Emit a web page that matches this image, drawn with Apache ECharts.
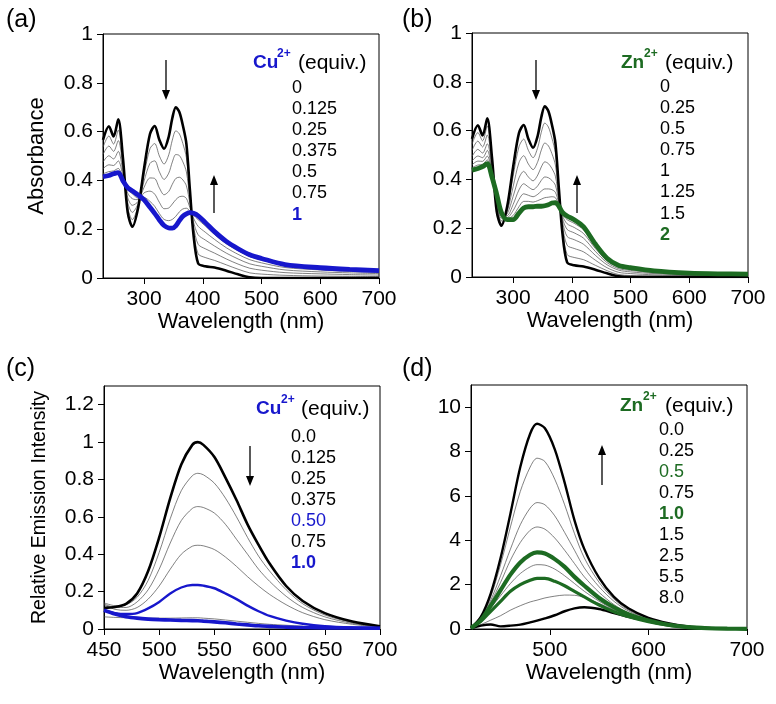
<!DOCTYPE html>
<html>
<head>
<meta charset="utf-8">
<script src="https://cdn.jsdelivr.net/npm/echarts@6/dist/echarts.min.js"></script>
<style>
html, body { margin: 0; padding: 0; background: #fff; }
#chart { width: 776px; height: 704px; }
</style>
</head>
<body>
<div id="chart"></div>
<script>
// (a)/(b) absorption, wavelength grid (nm)
const absWl = [230, 240, 248, 256, 264, 272, 280, 290, 300, 310, 318, 326, 334, 342, 348, 354, 360, 366, 372, 378, 384, 392, 404, 420, 440, 460, 480, 500, 540, 600, 650, 700]
const absFree = [0.566, 0.622, 0.58, 0.65, 0.49, 0.27, 0.21, 0.29, 0.45, 0.59, 0.623, 0.566, 0.53, 0.58, 0.655, 0.70, 0.68, 0.625, 0.55, 0.36, 0.18, 0.06, 0.048, 0.043, 0.03, 0.015, 0.003, 0, 0, 0, 0, 0]

// Cu2+ titration
const absCu0125 = [0.536, 0.582, 0.549, 0.606, 0.472, 0.29, 0.239, 0.298, 0.424, 0.53, 0.551, 0.50, 0.467, 0.505, 0.565, 0.603, 0.591, 0.551, 0.493, 0.342, 0.197, 0.099, 0.084, 0.072, 0.054, 0.036, 0.021, 0.016, 0.011, 0.008, 0.007, 0.006]
const absCu025 = [0.506, 0.541, 0.519, 0.563, 0.453, 0.31, 0.269, 0.306, 0.398, 0.47, 0.48, 0.435, 0.404, 0.43, 0.475, 0.506, 0.502, 0.476, 0.435, 0.323, 0.214, 0.138, 0.12, 0.102, 0.078, 0.057, 0.04, 0.032, 0.022, 0.017, 0.014, 0.012]
const absCu0375 = [0.475, 0.501, 0.488, 0.519, 0.435, 0.33, 0.298, 0.314, 0.372, 0.41, 0.408, 0.369, 0.341, 0.355, 0.384, 0.408, 0.413, 0.402, 0.378, 0.305, 0.231, 0.177, 0.156, 0.131, 0.102, 0.078, 0.058, 0.048, 0.033, 0.025, 0.021, 0.018]
const absCu05 = [0.448, 0.464, 0.461, 0.48, 0.418, 0.348, 0.325, 0.321, 0.349, 0.356, 0.344, 0.31, 0.284, 0.287, 0.303, 0.321, 0.333, 0.335, 0.326, 0.288, 0.246, 0.212, 0.188, 0.158, 0.124, 0.097, 0.075, 0.062, 0.043, 0.033, 0.027, 0.023]
const absCu075 = [0.427, 0.436, 0.439, 0.449, 0.405, 0.362, 0.345, 0.327, 0.33, 0.314, 0.294, 0.264, 0.24, 0.235, 0.24, 0.253, 0.271, 0.283, 0.286, 0.275, 0.258, 0.239, 0.214, 0.178, 0.14, 0.112, 0.088, 0.074, 0.051, 0.039, 0.032, 0.028]
const absCu1 = [0.415, 0.42, 0.427, 0.432, 0.398, 0.37, 0.357, 0.34, 0.32, 0.29, 0.265, 0.238, 0.215, 0.205, 0.204, 0.214, 0.235, 0.253, 0.263, 0.268, 0.265, 0.255, 0.228, 0.19, 0.15, 0.12, 0.095, 0.08, 0.055, 0.042, 0.035, 0.03]

// Zn2+ titration
const absZn025 = [0.544, 0.592, 0.558, 0.619, 0.476, 0.282, 0.219, 0.281, 0.413, 0.534, 0.565, 0.519, 0.489, 0.531, 0.593, 0.631, 0.615, 0.57, 0.508, 0.348, 0.194, 0.092, 0.08, 0.071, 0.048, 0.026, 0.01, 0.006, 0.004, 0.003, 0.002, 0.002]
const absZn05 = [0.519, 0.557, 0.533, 0.582, 0.46, 0.296, 0.23, 0.27, 0.37, 0.469, 0.497, 0.463, 0.44, 0.473, 0.52, 0.549, 0.538, 0.506, 0.459, 0.334, 0.211, 0.13, 0.117, 0.103, 0.069, 0.038, 0.019, 0.014, 0.009, 0.006, 0.005, 0.004]
const absZn075 = [0.494, 0.523, 0.508, 0.546, 0.445, 0.309, 0.241, 0.259, 0.33, 0.406, 0.433, 0.41, 0.394, 0.418, 0.451, 0.472, 0.465, 0.445, 0.413, 0.321, 0.228, 0.166, 0.153, 0.134, 0.089, 0.05, 0.028, 0.021, 0.014, 0.009, 0.007, 0.007]
const absZn1 = [0.475, 0.496, 0.489, 0.519, 0.433, 0.32, 0.249, 0.251, 0.297, 0.357, 0.382, 0.369, 0.358, 0.374, 0.396, 0.41, 0.407, 0.396, 0.376, 0.31, 0.24, 0.195, 0.181, 0.159, 0.105, 0.059, 0.034, 0.027, 0.018, 0.011, 0.009, 0.009]
const absZn125 = [0.46, 0.475, 0.474, 0.496, 0.424, 0.328, 0.256, 0.244, 0.272, 0.318, 0.341, 0.335, 0.329, 0.339, 0.352, 0.361, 0.361, 0.358, 0.347, 0.302, 0.251, 0.218, 0.203, 0.178, 0.117, 0.066, 0.04, 0.032, 0.021, 0.013, 0.011, 0.01]
const absZn15 = [0.448, 0.459, 0.462, 0.48, 0.416, 0.334, 0.261, 0.239, 0.252, 0.288, 0.31, 0.31, 0.307, 0.313, 0.319, 0.325, 0.327, 0.329, 0.325, 0.296, 0.258, 0.235, 0.22, 0.193, 0.127, 0.072, 0.043, 0.035, 0.023, 0.015, 0.012, 0.011]
const absZn2 = [0.438, 0.445, 0.452, 0.465, 0.41, 0.34, 0.265, 0.235, 0.235, 0.262, 0.283, 0.288, 0.288, 0.29, 0.29, 0.292, 0.296, 0.303, 0.305, 0.29, 0.265, 0.25, 0.235, 0.206, 0.135, 0.077, 0.047, 0.038, 0.025, 0.016, 0.013, 0.012]

// (c) emission with Cu2+
const emWlCu = [450, 460, 470, 480, 490, 500, 510, 520, 530, 535, 540, 550, 560, 570, 580, 590, 600, 615, 630, 650, 675, 700]
const emCu0 = [0.114, 0.118, 0.135, 0.19, 0.31, 0.49, 0.70, 0.88, 0.985, 1.0, 0.985, 0.92, 0.81, 0.69, 0.56, 0.45, 0.35, 0.23, 0.15, 0.085, 0.04, 0.015]
const emCu0125 = [0.14, 0.125, 0.13, 0.17, 0.26, 0.41, 0.59, 0.74, 0.82, 0.833, 0.825, 0.78, 0.70, 0.60, 0.49, 0.39, 0.31, 0.21, 0.135, 0.075, 0.035, 0.013]
const emCu025 = [0.135, 0.115, 0.115, 0.145, 0.21, 0.32, 0.46, 0.58, 0.645, 0.655, 0.65, 0.62, 0.56, 0.48, 0.40, 0.32, 0.255, 0.175, 0.115, 0.065, 0.03, 0.012]
const emCu0375 = [0.13, 0.105, 0.1, 0.115, 0.16, 0.23, 0.32, 0.40, 0.443, 0.448, 0.445, 0.425, 0.385, 0.335, 0.28, 0.23, 0.185, 0.13, 0.087, 0.05, 0.025, 0.01]
const emCu05 = [0.10, 0.085, 0.08, 0.085, 0.11, 0.145, 0.19, 0.222, 0.235, 0.235, 0.232, 0.218, 0.19, 0.16, 0.125, 0.095, 0.07, 0.045, 0.028, 0.015, 0.008, 0.005]
const emCu075 = [0.065, 0.062, 0.06, 0.058, 0.058, 0.058, 0.058, 0.059, 0.06, 0.06, 0.058, 0.054, 0.048, 0.042, 0.036, 0.03, 0.025, 0.02, 0.015, 0.011, 0.008, 0.006]
const emCu1 = [0.10, 0.08, 0.066, 0.058, 0.053, 0.05, 0.048, 0.046, 0.045, 0.044, 0.042, 0.038, 0.033, 0.027, 0.022, 0.017, 0.014, 0.01, 0.008, 0.006, 0.005, 0.004]

// (d) emission with Zn2+
const emWlZn = [420, 430, 440, 450, 460, 470, 480, 487, 495, 505, 515, 525, 535, 550, 565, 580, 600, 620, 640, 660, 680, 700]
const emZn0 = [0.03, 0.15, 0.2, 0.12, 0.15, 0.2, 0.3, 0.38, 0.48, 0.62, 0.8, 0.93, 0.98, 0.9, 0.72, 0.55, 0.35, 0.19, 0.09, 0.04, 0.015, 0.01]
const emZn025 = [0.05, 0.2, 0.4, 0.6, 0.85, 1.05, 1.22, 1.3, 1.4, 1.48, 1.53, 1.52, 1.42, 1.15, 0.85, 0.6, 0.35, 0.18, 0.08, 0.035, 0.015, 0.01]
const emZn05 = [0.05, 0.35, 0.8, 1.25, 1.7, 2.0, 2.2, 2.28, 2.28, 2.15, 1.95, 1.7, 1.45, 1.08, 0.78, 0.55, 0.33, 0.17, 0.08, 0.035, 0.015, 0.01]
const emZn075 = [0.05, 0.4, 0.95, 1.5, 2.05, 2.5, 2.8, 2.9, 2.88, 2.7, 2.4, 2.05, 1.7, 1.25, 0.88, 0.6, 0.35, 0.18, 0.08, 0.035, 0.015, 0.01]
const emZn1 = [0.05, 0.4, 1.05, 1.75, 2.45, 3.0, 3.35, 3.45, 3.4, 3.15, 2.8, 2.35, 1.95, 1.4, 0.98, 0.66, 0.38, 0.19, 0.085, 0.035, 0.015, 0.01]
const emZn15 = [0.05, 0.45, 1.2, 2.1, 3.1, 3.9, 4.45, 4.6, 4.5, 4.1, 3.55, 2.95, 2.35, 1.65, 1.1, 0.72, 0.4, 0.2, 0.09, 0.04, 0.015, 0.01]
const emZn25 = [0.05, 0.45, 1.3, 2.4, 3.6, 4.7, 5.45, 5.7, 5.6, 5.1, 4.35, 3.55, 2.75, 1.9, 1.25, 0.8, 0.44, 0.22, 0.1, 0.04, 0.015, 0.01]
const emZn55 = [0.05, 0.5, 1.45, 2.9, 4.6, 6.2, 7.3, 7.7, 7.55, 6.75, 5.6, 4.3, 3.2, 2.1, 1.35, 0.85, 0.47, 0.24, 0.11, 0.045, 0.018, 0.01]
const emZn8 = [0.05, 0.55, 1.6, 3.2, 5.2, 7.3, 8.8, 9.25, 9.05, 8.1, 6.6, 4.9, 3.6, 2.3, 1.45, 0.92, 0.5, 0.26, 0.12, 0.05, 0.02, 0.01]

// legend labels
const cuAbsEquiv = ['0', '0.125', '0.25', '0.375', '0.5', '0.75', '1']
const znAbsEquiv = ['0', '0.25', '0.5', '0.75', '1', '1.25', '1.5', '2']
const cuEmEquiv = ['0.0', '0.125', '0.25', '0.375', '0.50', '0.75', '1.0']
const znEmEquiv = ['0.0', '0.25', '0.5', '0.75', '1.0', '1.5', '2.5', '5.5', '8.0']

const FONT = 'Liberation Sans, Arial, sans-serif'
const BLUE = '#1717cc'
const GREEN = '#1d6b22'
const GRAY = '#4a4a4a'

function line(idx, xs, ys, color, width, z) {
  return {
    type: 'line',
    xAxisIndex: idx,
    yAxisIndex: idx,
    data: xs.map((x, i) => [x, ys[i]]),
    showSymbol: false,
    smooth: 0.3,
    silent: true,
    z: z || 2,
    lineStyle: { color: color, width: width }
  }
}

function xAxis(idx, min, max, ticks) {
  return {
    type: 'value',
    gridIndex: idx,
    min: min,
    max: max,
    name: 'Wavelength (nm)',
    nameLocation: 'middle',
    nameGap: 33,
    nameTextStyle: { fontFamily: FONT, fontSize: 22, color: '#000' },
    axisLine: { show: true, lineStyle: { color: '#000', width: 1 } },
    axisTick: { show: true, length: 6, customValues: ticks, lineStyle: { color: '#000' } },
    axisLabel: { customValues: ticks, fontFamily: FONT, fontSize: 21, color: '#000', margin: 11 },
    splitLine: { show: false }
  }
}

function yAxis(idx, min, max, ticks, name, gap, nameSize) {
  return {
    type: 'value',
    gridIndex: idx,
    min: min,
    max: max,
    name: name || '',
    nameLocation: 'middle',
    nameGap: gap || 50,
    nameTextStyle: { fontFamily: FONT, fontSize: nameSize || 22, color: '#000' },
    axisLine: { show: true, lineStyle: { color: '#000', width: 1 } },
    axisTick: { show: true, length: 6, customValues: ticks, lineStyle: { color: '#000' } },
    axisLabel: { customValues: ticks, fontFamily: FONT, fontSize: 21, color: '#000', margin: 10 },
    splitLine: { show: false }
  }
}

function txt(x, y, text, opts) {
  opts = opts || {}
  return {
    type: 'text',
    x: x,
    y: y,
    silent: true,
    style: {
      text: text,
      fill: opts.color || '#000',
      font: (opts.bold ? 'bold ' : '') + (opts.size || 18) + 'px ' + FONT,
      verticalAlign: 'middle',
      align: 'left'
    }
  }
}

function legendHead(x, y, ion, supX, eqX, color) {
  return [
    txt(x, y, ion, { color: color, bold: true, size: 19 }),
    txt(supX, y - 9, '2+', { color: color, bold: true, size: 12 }),
    txt(eqX, y, '(equiv.)', { size: 21 })
  ]
}

function legendRows(x, y0, step, labels, styles) {
  return labels.map((l, i) => txt(x, y0 + i * step, l, styles[i] || {}))
}

function arrow(x, yFrom, yTo) {
  const dir = yTo > yFrom ? 1 : -1
  return [
    { type: 'line', silent: true, shape: { x1: x, y1: yFrom, x2: x, y2: yTo - dir * 8 }, style: { stroke: '#000', lineWidth: 1.3 } },
    { type: 'polygon', silent: true, shape: { points: [[x - 4, yTo - dir * 10], [x + 4, yTo - dir * 10], [x, yTo]] }, style: { fill: '#000' } }
  ]
}

const chart = echarts.init(document.getElementById('chart'))

const graphics = [].concat(
  txt(6, 20, '(a)', { size: 25 }),
  txt(402, 20, '(b)', { size: 25 }),
  txt(6, 369, '(c)', { size: 25 }),
  txt(402, 369, '(d)', { size: 25 }),
  legendHead(253, 63, 'Cu', 277, 298, BLUE),
  legendHead(621, 63, 'Zn', 644, 665, GREEN),
  legendHead(256, 409, 'Cu', 281, 301, BLUE),
  legendHead(620, 406, 'Zn', 643, 665, GREEN),
  legendRows(292, 88, 21.1, cuAbsEquiv, { 6: { color: BLUE, bold: true } }),
  legendRows(660, 87, 21.1, znAbsEquiv, { 7: { color: GREEN, bold: true } }),
  legendRows(291, 437, 21, cuEmEquiv, { 4: { color: BLUE }, 6: { color: BLUE, bold: true } }),
  legendRows(659, 430, 21, znEmEquiv, { 2: { color: GREEN }, 4: { color: GREEN, bold: true } }),
  arrow(166, 60, 100),
  arrow(214, 213, 175),
  arrow(536, 60, 100),
  arrow(577, 213, 175),
  arrow(250, 446, 486),
  arrow(602, 485, 445)
)

const gridStyle = { show: true, borderColor: '#000', borderWidth: 1, backgroundColor: 'transparent' }

chart.setOption({
  animation: false,
  backgroundColor: '#fff',
  grid: [
    Object.assign({ left: 103, top: 34, width: 276, height: 244 }, gridStyle),
    Object.assign({ left: 472, top: 33, width: 276, height: 244 }, gridStyle),
    Object.assign({ left: 104, top: 386, width: 276, height: 243 }, gridStyle),
    Object.assign({ left: 471, top: 385, width: 276, height: 244 }, gridStyle)
  ],
  xAxis: [
    xAxis(0, 230, 700, [300, 400, 500, 600, 700]),
    xAxis(1, 230, 700, [300, 400, 500, 600, 700]),
    xAxis(2, 450, 700, [450, 500, 550, 600, 650, 700]),
    xAxis(3, 420, 700, [500, 600, 700])
  ],
  yAxis: [
    yAxis(0, 0, 1, [0, 0.2, 0.4, 0.6, 0.8, 1], 'Absorbance', 55, 22),
    yAxis(1, 0, 1, [0, 0.2, 0.4, 0.6, 0.8, 1]),
    yAxis(2, 0, 1.3, [0, 0.2, 0.4, 0.6, 0.8, 1, 1.2], 'Relative Emission Intensity', 54, 19.5),
    yAxis(3, 0, 11, [0, 2, 4, 6, 8, 10])
  ],
  graphic: graphics,
  series: [
    line(0, absWl, absCu0125, GRAY, 0.7),
    line(0, absWl, absCu025, GRAY, 0.7),
    line(0, absWl, absCu0375, GRAY, 0.7),
    line(0, absWl, absCu05, GRAY, 0.7),
    line(0, absWl, absCu075, GRAY, 0.7),
    line(0, absWl, absFree, '#000', 2.6, 3),
    line(0, absWl, absCu1, BLUE, 4.8, 4),

    line(1, absWl, absZn025, GRAY, 0.7),
    line(1, absWl, absZn05, GRAY, 0.7),
    line(1, absWl, absZn075, GRAY, 0.7),
    line(1, absWl, absZn1, GRAY, 0.7),
    line(1, absWl, absZn125, GRAY, 0.7),
    line(1, absWl, absZn15, GRAY, 0.7),
    line(1, absWl, absFree, '#000', 2.6, 3),
    line(1, absWl, absZn2, GREEN, 4.8, 4),

    line(2, emWlCu, emCu0125, GRAY, 0.7),
    line(2, emWlCu, emCu025, GRAY, 0.7),
    line(2, emWlCu, emCu0375, GRAY, 0.7),
    line(2, emWlCu, emCu075, GRAY, 0.7),
    line(2, emWlCu, emCu0, '#000', 2.6, 3),
    line(2, emWlCu, emCu05, BLUE, 2.4, 4),
    line(2, emWlCu, emCu1, BLUE, 3.6, 4),

    line(3, emWlZn, emZn025, GRAY, 0.7),
    line(3, emWlZn, emZn075, GRAY, 0.7),
    line(3, emWlZn, emZn15, GRAY, 0.7),
    line(3, emWlZn, emZn25, GRAY, 0.7),
    line(3, emWlZn, emZn55, GRAY, 0.7),
    line(3, emWlZn, emZn0, '#000', 2.4, 3),
    line(3, emWlZn, emZn8, '#000', 2.4, 3),
    line(3, emWlZn, emZn05, GREEN, 3.2, 4),
    line(3, emWlZn, emZn1, GREEN, 4.2, 4)
  ]
})
</script>
</body>
</html>
